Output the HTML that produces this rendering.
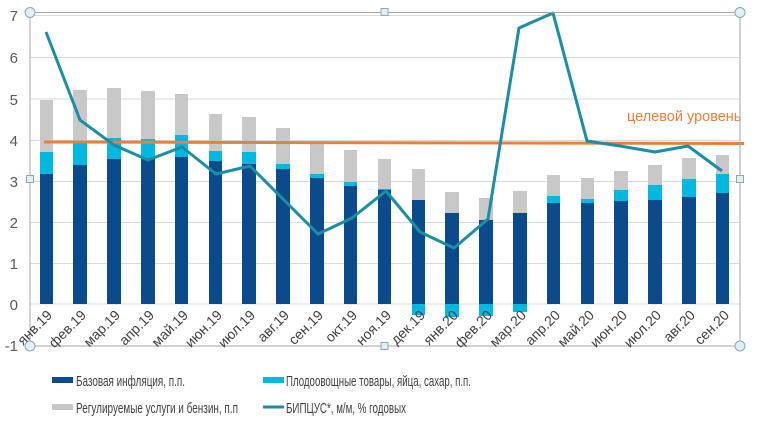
<!DOCTYPE html>
<html><head><meta charset="utf-8"><style>
body{margin:0;background:#fff}
svg{display:block;font-family:"Liberation Sans",sans-serif}
</style></head><body>
<svg width="757" height="423" viewBox="0 0 757 423" xmlns="http://www.w3.org/2000/svg">
<rect width="757" height="423" fill="#fff"/>
<g stroke="#d9d9d9" stroke-width="1">
<line x1="30" y1="15.5" x2="740" y2="15.5"/>
<line x1="30" y1="57.5" x2="740" y2="57.5"/>
<line x1="30" y1="99" x2="740" y2="99"/>
<line x1="30" y1="140.5" x2="740" y2="140.5"/>
<line x1="30" y1="181.5" x2="740" y2="181.5"/>
<line x1="30" y1="222.5" x2="740" y2="222.5"/>
<line x1="30" y1="263.5" x2="740" y2="263.5"/>
<line x1="30" y1="304" x2="740" y2="304"/>
</g>
<g fill="#595959" font-size="15" text-anchor="end">
<text x="18" y="21">7</text><text x="18" y="63">6</text><text x="18" y="105">5</text>
<text x="18" y="146">4</text><text x="18" y="187">3</text><text x="18" y="228">2</text>
<text x="18" y="269">1</text><text x="18" y="310">0</text><text x="18" y="351">-1</text>
</g>
<g id="bars">
<rect x="40" y="100" width="13" height="52" fill="#c8c8c8"/><rect x="40" y="152" width="13" height="22" fill="#00b8e0"/><rect x="40" y="174" width="13" height="130" fill="#0b4a8b"/>
<rect x="73" y="90" width="14" height="53" fill="#c8c8c8"/><rect x="73" y="143" width="14" height="22" fill="#00b8e0"/><rect x="73" y="165" width="14" height="139" fill="#0b4a8b"/>
<rect x="107" y="88" width="14" height="50" fill="#c8c8c8"/><rect x="107" y="138" width="14" height="21" fill="#00b8e0"/><rect x="107" y="159" width="14" height="145" fill="#0b4a8b"/>
<rect x="141" y="91" width="14" height="48" fill="#c8c8c8"/><rect x="141" y="139" width="14" height="20" fill="#00b8e0"/><rect x="141" y="159" width="14" height="145" fill="#0b4a8b"/>
<rect x="175" y="94" width="13" height="41" fill="#c8c8c8"/><rect x="175" y="135" width="13" height="22" fill="#00b8e0"/><rect x="175" y="157" width="13" height="147" fill="#0b4a8b"/>
<rect x="209" y="114" width="13" height="37" fill="#c8c8c8"/><rect x="209" y="151" width="13" height="10" fill="#00b8e0"/><rect x="209" y="161" width="13" height="143" fill="#0b4a8b"/>
<rect x="242" y="117" width="14" height="35" fill="#c8c8c8"/><rect x="242" y="152" width="14" height="12" fill="#00b8e0"/><rect x="242" y="164" width="14" height="140" fill="#0b4a8b"/>
<rect x="276" y="128" width="14" height="36" fill="#c8c8c8"/><rect x="276" y="164" width="14" height="5" fill="#00b8e0"/><rect x="276" y="169" width="14" height="135" fill="#0b4a8b"/>
<rect x="310" y="143" width="14" height="31" fill="#c8c8c8"/><rect x="310" y="174" width="14" height="4" fill="#00b8e0"/><rect x="310" y="178" width="14" height="126" fill="#0b4a8b"/>
<rect x="344" y="150" width="13" height="32" fill="#c8c8c8"/><rect x="344" y="182" width="13" height="4" fill="#00b8e0"/><rect x="344" y="186" width="13" height="118" fill="#0b4a8b"/>
<rect x="378" y="159" width="13" height="30" fill="#c8c8c8"/><rect x="378" y="189" width="13" height="1" fill="#00b8e0"/><rect x="378" y="190" width="13" height="114" fill="#0b4a8b"/>
<rect x="412" y="169" width="13" height="31" fill="#c8c8c8"/><rect x="412" y="200" width="13" height="104" fill="#0b4a8b"/><rect x="412" y="304" width="13" height="11" fill="#00b8e0"/>
<rect x="445" y="192" width="14" height="21" fill="#c8c8c8"/><rect x="445" y="213" width="14" height="91" fill="#0b4a8b"/><rect x="445" y="304" width="14" height="13" fill="#00b8e0"/>
<rect x="479" y="198" width="14" height="22" fill="#c8c8c8"/><rect x="479" y="220" width="14" height="84" fill="#0b4a8b"/><rect x="479" y="304" width="14" height="12" fill="#00b8e0"/>
<rect x="513" y="191" width="14" height="22" fill="#c8c8c8"/><rect x="513" y="213" width="14" height="91" fill="#0b4a8b"/><rect x="513" y="304" width="14" height="8" fill="#00b8e0"/>
<rect x="547" y="175" width="13" height="21" fill="#c8c8c8"/><rect x="547" y="196" width="13" height="7" fill="#00b8e0"/><rect x="547" y="203" width="13" height="101" fill="#0b4a8b"/>
<rect x="581" y="178" width="13" height="21" fill="#c8c8c8"/><rect x="581" y="199" width="13" height="4" fill="#00b8e0"/><rect x="581" y="203" width="13" height="101" fill="#0b4a8b"/>
<rect x="614" y="171" width="14" height="19" fill="#c8c8c8"/><rect x="614" y="190" width="14" height="11" fill="#00b8e0"/><rect x="614" y="201" width="14" height="103" fill="#0b4a8b"/>
<rect x="648" y="165" width="14" height="20" fill="#c8c8c8"/><rect x="648" y="185" width="14" height="15" fill="#00b8e0"/><rect x="648" y="200" width="14" height="104" fill="#0b4a8b"/>
<rect x="682" y="158" width="14" height="21" fill="#c8c8c8"/><rect x="682" y="179" width="14" height="18" fill="#00b8e0"/><rect x="682" y="197" width="14" height="107" fill="#0b4a8b"/>
<rect x="716" y="155" width="13" height="19" fill="#c8c8c8"/><rect x="716" y="174" width="13" height="19" fill="#00b8e0"/><rect x="716" y="193" width="13" height="111" fill="#0b4a8b"/>
</g>
<line x1="44" y1="142" x2="744" y2="143.5" stroke="#e8803a" stroke-width="3"/>
<text x="627" y="121" fill="#e8803a" font-size="14.5">целевой уровень</text>
<polyline fill="none" stroke="#1a8fa3" stroke-width="3" stroke-linejoin="round" points="46,32 80,120 114,145 148,160 182,147 216,174 250,166 284,200 318,234 352,218 386,191 420,232 454,248 488,219 519,28 553,13 587,141 620,146 655,152 688,146 722,171"/>
<rect x="30" y="12.5" width="710" height="333.5" fill="none" stroke="#a6a6a6" stroke-width="1"/>
<g fill="#dff0f8" stroke="#8aa" stroke-width="1">
<circle cx="30" cy="12.5" r="5"/><circle cx="740" cy="12.5" r="5"/><circle cx="30" cy="346" r="5"/><circle cx="740" cy="346" r="5"/>
<rect x="381" y="8.5" width="7" height="7"/><rect x="26.5" y="175.5" width="7" height="7"/><rect x="736.5" y="175.5" width="7" height="7"/><rect x="381" y="342.5" width="7" height="7"/>
</g>
<g fill="#404040" font-size="14" text-anchor="end">
<text transform="translate(53,316) rotate(-45)">янв.19</text>
<text transform="translate(87,316) rotate(-45)">фев.19</text>
<text transform="translate(121,316) rotate(-45)">мар.19</text>
<text transform="translate(155,316) rotate(-45)">апр.19</text>
<text transform="translate(189,316) rotate(-45)">май.19</text>
<text transform="translate(223,316) rotate(-45)">июн.19</text>
<text transform="translate(256,316) rotate(-45)">июл.19</text>
<text transform="translate(290,316) rotate(-45)">авг.19</text>
<text transform="translate(324,316) rotate(-45)">сен.19</text>
<text transform="translate(358,316) rotate(-45)">окт.19</text>
<text transform="translate(392,316) rotate(-45)">ноя.19</text>
<text transform="translate(426,316) rotate(-45)">дек.19</text>
<text transform="translate(459,316) rotate(-45)">янв.20</text>
<text transform="translate(493,316) rotate(-45)">фев.20</text>
<text transform="translate(527,316) rotate(-45)">мар.20</text>
<text transform="translate(561,316) rotate(-45)">апр.20</text>
<text transform="translate(595,316) rotate(-45)">май.20</text>
<text transform="translate(628,316) rotate(-45)">июн.20</text>
<text transform="translate(662,316) rotate(-45)">июл.20</text>
<text transform="translate(696,316) rotate(-45)">авг.20</text>
<text transform="translate(730,316) rotate(-45)">сен.20</text>
</g>
<g font-size="14.5" fill="#404040">
<rect x="52" y="377" width="21" height="6" fill="#0b4a8b"/><text x="76" y="386" textLength="109" lengthAdjust="spacingAndGlyphs">Базовая инфляция, п.п.</text>
<rect x="263" y="377" width="21" height="6" fill="#00b8e0"/><text x="286" y="386" textLength="185" lengthAdjust="spacingAndGlyphs">Плодоовощные  товары, яйца, сахар,  п.п.</text>
<rect x="52" y="404" width="21" height="6" fill="#c8c8c8"/><text x="76" y="413" textLength="162" lengthAdjust="spacingAndGlyphs">Регулируемые  услуги и бензин, п.п</text>
<rect x="263" y="405.5" width="21" height="3" fill="#1a8fa3"/><text x="286" y="413" textLength="120" lengthAdjust="spacingAndGlyphs">БИПЦУС*,  м/м, % годовых</text>
</g>
</svg>
</body></html>
